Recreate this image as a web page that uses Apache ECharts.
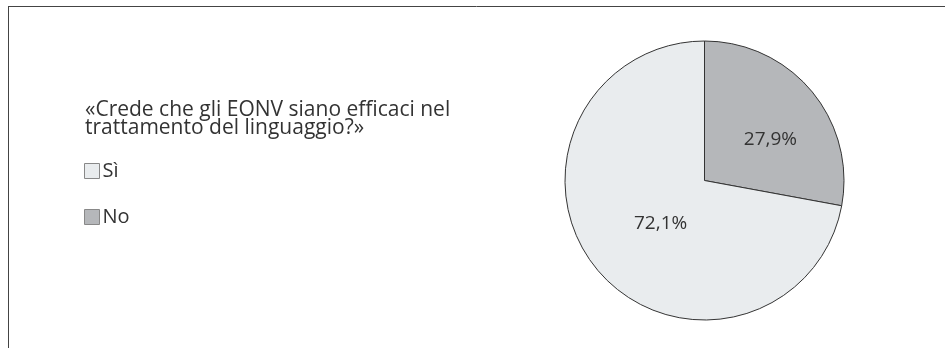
<!DOCTYPE html>
<html>
<head>
<meta charset="utf-8">
<script src="https://cdn.jsdelivr.net/npm/echarts@6/dist/echarts.min.js"></script>
<style>
  html, body { margin: 0; padding: 0; background: #fff; }
  #chart { width: 945px; height: 348px; }
</style>
</head>
<body>
<div id="chart"></div>
<script>
const categories = ['Sì', 'No'];
const values = [72.1, 27.9];
const colors = ['#e9ecee', '#b5b7ba'];
const question = '«Crede che gli EONV siano efficaci nel\ntrattamento del linguaggio?»';

// pie draws "No" first (clockwise from 12 o'clock), legend lists "Sì" first
const sliceOrder = [1, 0];
// small label nudges, per category (Sì, No)
const labelNudge = [[12, -3], [10, 6]];

const font = '"Open Sans", Lato, sans-serif';

const chart = echarts.init(document.getElementById('chart'));
chart.setOption({
  animation: false,
  textStyle: { fontFamily: font },
  title: {
    text: question,
    left: 80,
    top: 96,
    textStyle: {
      fontSize: 21,
      fontWeight: 'normal',
      color: '#333',
      lineHeight: 18,
      fontFamily: font,
    },
  },
  legend: {
    orient: 'vertical',
    left: 79,
    top: 156,
    icon: 'rect',
    itemWidth: 15,
    itemHeight: 15,
    itemGap: 26,
    data: categories,
    itemStyle: { borderColor: '#888', borderWidth: 1 },
    textStyle: { fontSize: 20, color: '#333', padding: [0, 0, 0, -2], fontFamily: font },
    selectedMode: false,
  },
  graphic: [
    { type: 'line', shape: { x1: 8, y1: 6.5, x2: 945, y2: 6.5 }, style: { stroke: '#444', lineWidth: 1 } },
    { type: 'line', shape: { x1: 8.5, y1: 6, x2: 8.5, y2: 348 }, style: { stroke: '#444', lineWidth: 1 } },
  ],
  series: [
    {
      type: 'pie',
      center: [704.5, 180.5],
      radius: 139.5,
      startAngle: 90,
      clockwise: true,
      legendHoverLink: false,
      itemStyle: { borderColor: '#333', borderWidth: 1 },
      label: {
        show: true,
        position: 'inner',
        fontSize: 19,
        color: '#333',
        fontFamily: font,
        formatter: (p) => String(p.value).replace('.', ',') + '%',
      },
      labelLine: { show: false },
      labelLayout: (p) => {
        const n = labelNudge[sliceOrder[p.dataIndex]];
        return { dx: n[0], dy: n[1] };
      },
      emphasis: { disabled: true },
      data: sliceOrder.map((i) => ({
        name: categories[i],
        value: values[i],
        itemStyle: { color: colors[i] },
      })),
    },
  ],
});
</script>
</body>
</html>
